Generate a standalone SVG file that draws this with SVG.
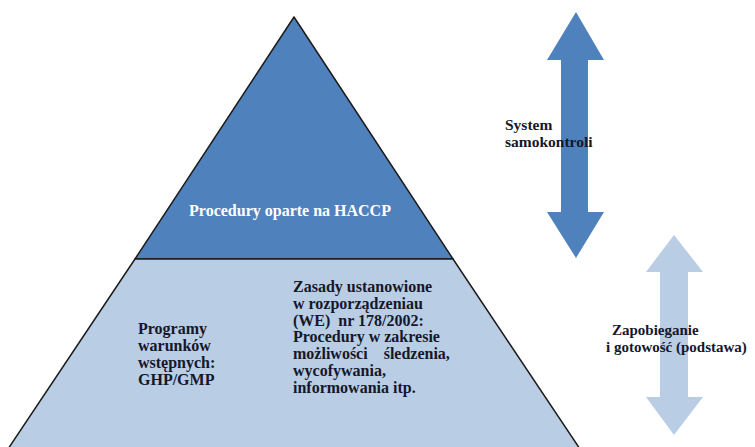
<svg xmlns="http://www.w3.org/2000/svg" width="755" height="447" viewBox="0 0 755 447">
<style>
.t{font-family:"Liberation Serif","Times New Roman",serif;font-weight:bold;font-size:15px;fill:#15172b}
.b{font-size:16px}
.w{fill:#ffffff;font-size:16px}
.tri{stroke:#1b1b1b;stroke-width:1.5;stroke-linejoin:round}
.dark{fill:#4f81bd}
.light{fill:#b9cde5}
</style>
<rect width="755" height="447" fill="#ffffff"/>
<g id="pyramid-top">
<polygon class="tri dark" points="294,17 135,259 453,259"/>
<text class="t w" x="290" y="216" text-anchor="middle">Procedury oparte na HACCP</text>
</g>
<g id="pyramid-base">
<polygon class="tri light" points="135,259 453,259 580,449 8,449"/>
<text class="t b" x="138" y="334">Programy</text>
<text class="t b" x="138" y="351">warunków</text>
<text class="t b" x="138" y="368">wstępnych:</text>
<text class="t b" x="138" y="385">GHP/GMP</text>
<text class="t b" x="293" y="292">Zasady ustanowione</text>
<text class="t b" x="293" y="309">w rozporządzeniau</text>
<text class="t b" x="293" y="326" xml:space="preserve">(WE)  nr 178/2002:</text>
<text class="t b" x="293" y="342">Procedury w zakresie</text>
<text class="t b" x="293" y="359" xml:space="preserve">możliwości    śledzenia,</text>
<text class="t b" x="293" y="376">wycofywania,</text>
<text class="t b" x="293" y="393">informowania itp.</text>
</g>
<g id="arrow-samokontrola">
<polygon class="dark" points="576,12 604,60 588,60 588,212 604,212 576,258 547,212 561,212 561,60 547,60"/>
<text class="t" x="505" y="130" style="font-size:15.5px">System</text>
<text class="t" x="505" y="147" style="font-size:15.5px">samokontroli</text>
</g>
<g id="arrow-zapobieganie">
<polygon class="light" points="674,235 703,272 688,272 688,397 703,397 674,435 646,397 660,397 660,272 646,272"/>
<text class="t" x="612" y="335">Zapobieganie</text>
<text class="t" x="606" y="352">i gotowość (podstawa)</text>
</g>
</svg>
